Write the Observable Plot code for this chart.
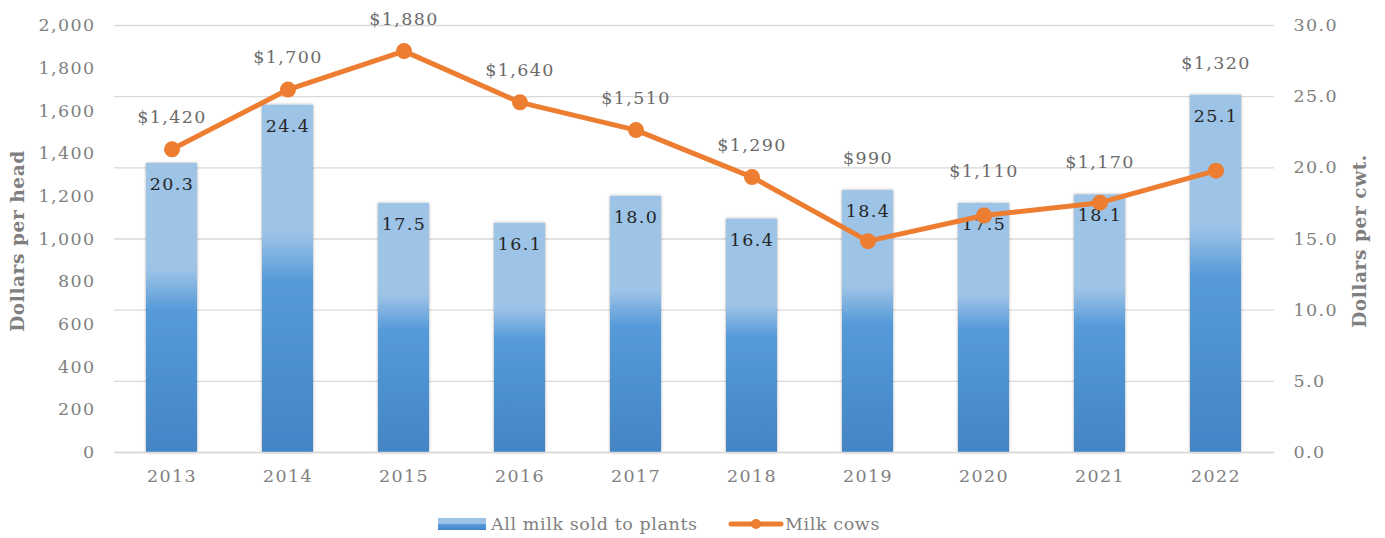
<!DOCTYPE html>
<html><head><meta charset="utf-8">
<script src="https://cdn.jsdelivr.net/npm/d3@7"></script>
<script src="https://cdn.jsdelivr.net/npm/@observablehq/plot@0.6"></script>
<style>
body{margin:0;background:#fff;font-family:"DejaVu Serif",serif;}
#wrap{position:relative;width:1385px;height:538px;}
#chart svg text{letter-spacing:1.4px;}
#chart svg text.title{letter-spacing:0.6px;}
.leg{position:absolute;top:514px;font-size:17.5px;letter-spacing:0.6px;color:#808080;display:flex;align-items:center;white-space:nowrap;}
</style>
</head><body><div id="wrap"><div id="chart"></div>
<div class="leg" style="left:438px"><svg width="50" height="14"><defs><linearGradient id="lg" x1="0" y1="0" x2="0" y2="1"><stop offset="0" stop-color="#9dc3e6"/><stop offset="0.45" stop-color="#9dc3e6"/><stop offset="0.55" stop-color="#559ad9"/><stop offset="1" stop-color="#4385c6"/></linearGradient></defs><rect x="0" y="1" width="48" height="12" fill="url(#lg)"/></svg><span style="margin-left:3px">All milk sold to plants</span></div>
<div class="leg" style="left:728px"><svg width="56" height="18"><line x1="3" y1="9" x2="53" y2="9" stroke="#ed7d31" stroke-width="5" stroke-linecap="round"/><circle cx="28" cy="9" r="5" fill="#ed7d31"/></svg><span style="margin-left:1px">Milk cows</span></div>
</div>
<script>
const years = ["2013","2014","2015","2016","2017","2018","2019","2020","2021","2022"];
const milkPerCwt = [20.3, 24.4, 17.5, 16.1, 18.0, 16.4, 18.4, 17.5, 18.1, 25.1];
const cowsPerHead = [1420, 1700, 1880, 1640, 1510, 1290, 990, 1110, 1170, 1320];
const leftTicks = [0,200,400,600,800,1000,1200,1400,1600,1800,2000];
const rightTicks = [0,5,10,15,20,25,30];
const leftMax = 2000, rightMax = 30;
const k = leftMax / rightMax;

const data = years.map((y,i) => ({year:y, bar:milkPerCwt[i], cow:cowsPerHead[i]}));
const font = 'DejaVu Serif, serif';

const plot = Plot.plot({
  width: 1385, height: 495,
  marginLeft: 114, marginRight: 111, marginTop: 25, marginBottom: 43,
  style: {fontFamily: font, fontSize: "17px", color: "#808080", background: "#fff"},
  x: {type: "band", domain: years, paddingInner: 0.56, paddingOuter: 0.28, align: 0.5},
  y: {domain: [0, leftMax]},
  marks: [
    Plot.gridY(rightTicks.map(v => v*k), {stroke: "#d9d9d9", strokeOpacity: 1, strokeWidth: 1.3}),
    Plot.barY(data, {x: "year", y: d => d.bar*k, fill: "url(#barGrad)"}),
    Plot.text(data, {x: "year", y: d => d.bar*k, text: d => d.bar.toFixed(1), dy: 21, fill: "#262626", fontSize: 17.5}),
    Plot.line(data, {x: "year", y: "cow", stroke: "#ed7d31", strokeWidth: 5, strokeLinejoin: "round"}),
    Plot.dot(data, {x: "year", y: "cow", r: 8, fill: "#ed7d31", stroke: "none"}),
    Plot.text(data, {x: "year", y: d => Math.max(d.cow, d.bar*k), text: d => "$" + d3.format(",")(d.cow), dy: -32, fill: "#6b6b6b", fontSize: 17.5}),
    Plot.axisX({tickSize: 0, tickPadding: 17, fontSize: 17.5, label: null}),
    Plot.axisY(leftTicks, {anchor: "left", tickSize: 0, tickPadding: 19, tickFormat: d3.format(","), fontSize: 17.5, label: null}),
    Plot.axisY(rightTicks.map(v => v*k), {anchor: "right", tickSize: 0, tickPadding: 19, tickFormat: d => (d/k).toFixed(1), fontSize: 17.5, label: null}),
    Plot.text(["Dollars per head"], {frameAnchor: "left", dx: -96, dy: 2, rotate: -90, textAnchor: "middle", fill: "#7f7f7f", fontWeight: "bold", fontSize: 18.5, className: "title"}),
    Plot.text(["Dollars per cwt."], {frameAnchor: "right", dx: 86, dy: 2, rotate: -90, textAnchor: "middle", fill: "#7f7f7f", fontWeight: "bold", fontSize: 18.5, className: "title"}),
    Plot.ruleY([0], {stroke: "#d9d9d9", strokeWidth: 1.3})
  ]
});

const svg = d3.select(plot);
svg.selectAll("g.title text").classed("title", true);
const defs = svg.insert("defs", ":first-child");
const g = defs.append("linearGradient").attr("id","barGrad").attr("x1",0).attr("y1",0).attr("x2",0).attr("y2",1);
[[0,"#9dc3e6"],[0.37,"#9dc3e6"],[0.51,"#559ad9"],[1,"#4385c6"]].forEach(([o,c]) => g.append("stop").attr("offset",o).attr("stop-color",c));
const f = defs.append("filter").attr("id","shadow").attr("x","-20%").attr("y","-5%").attr("width","140%").attr("height","110%");
f.append("feDropShadow").attr("dx",0).attr("dy",0).attr("stdDeviation",1.5).attr("flood-color","#000").attr("flood-opacity",0.35);
svg.selectAll("rect").filter(function(){return this.getAttribute("fill")==="url(#barGrad)" || (this.parentNode && this.parentNode.getAttribute("fill")==="url(#barGrad)");}).attr("filter","url(#shadow)");
document.getElementById("chart").appendChild(plot);
</script>
</body></html>
